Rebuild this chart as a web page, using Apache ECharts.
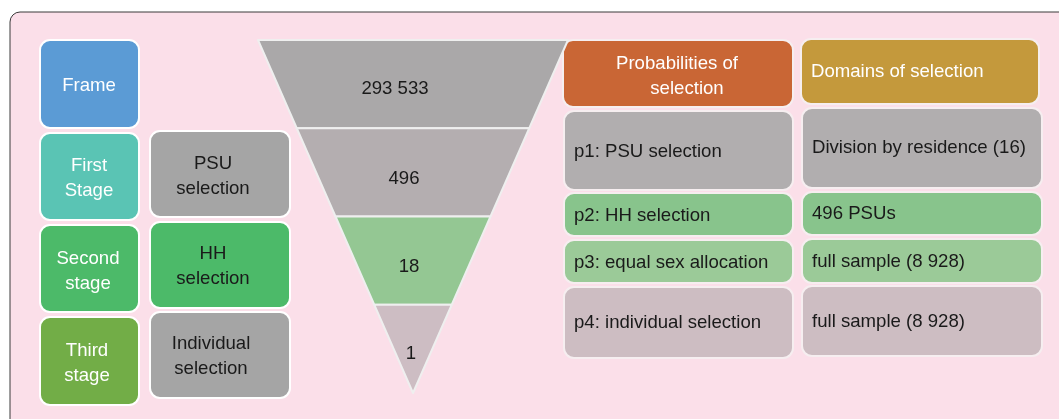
<!DOCTYPE html>
<html>
<head>
<meta charset="utf-8">
<script src="https://cdn.jsdelivr.net/npm/echarts@6/dist/echarts.min.js"></script>
<style>
html,body{margin:0;padding:0;background:#fff;}
#chart{width:1059px;height:419px;}
</style>
</head>
<body>
<div id="chart"></div>
<script>
// ---- data ----
var funnelValues = [293533, 496, 18, 1];           // sizes shown in the funnel
var funnelLevels = [4, 3, 2, 1];                    // structural width of each funnel band
var funnelColors = ['#aaa8a9', '#b4aeb0', '#94c793', '#cdbdc3'];
var stageLabels = ['Frame', 'First\nStage', 'Second\nstage', 'Third\nstage'];
var actionLabels = ['PSU\nselection', 'HH\nselection', 'Individual\nselection'];
var probHeader = ['Probabilities of', 'selection'];
var domainHeader = 'Domains of selection';
var probLabels = ['p1: PSU selection', 'p2: HH selection', 'p3: equal sex allocation', 'p4: individual selection'];
var domainLabels = ['Division by residence (16)', '496 PSUs', 'full sample (8 928)', 'full sample (8 928)'];

var FONT = '"Liberation Sans", Arial, sans-serif';
var FS = 18.6;

function fmt(v) {
  return String(v).replace(/\B(?=(\d{3})+(?!\d))/g, ' ');
}

function txt(text, tx, ty, color, align) {
  return { type: 'text', style: { text: text, x: tx, y: ty, fill: color,
    font: FS + 'px ' + FONT, textAlign: align || 'center', textVerticalAlign: 'middle', lineHeight: 25 } };
}

function box(x, y, w, h, fill, stroke, text, tx, ty, color, align) {
  var children = [
    { type: 'rect', shape: { x: x, y: y, width: w, height: h, r: 10 },
      style: { fill: fill, stroke: stroke, lineWidth: 2 } }
  ];
  if (text !== null) children.push(txt(text, tx, ty, color, align));
  return { type: 'group', children: children };
}

var graphics = [];
graphics.push({ type: 'rect', z: -10, shape: { x: 10, y: 12, width: 1070, height: 430, r: 10 },
  style: { fill: '#fbdfe9', stroke: '#3a3a3a', lineWidth: 1 } });

// left column: stages
var stageBoxes = [[40, 40, 99, 88, '#5b9bd5', 89, 86],
                  [40, 133, 99, 87, '#5ac4b4', 89, 178],
                  [40, 225, 99, 87, '#4cba69', 88, 271],
                  [40, 317, 99, 88, '#72ad47', 87, 363]];
stageBoxes.forEach(function (b, i) {
  graphics.push(box(b[0], b[1], b[2], b[3], b[4], '#ffffff', stageLabels[i], b[5], b[6], '#ffffff'));
});
// second column: selection actions
var actBoxes = [[150, 131, 140, 86, '#a5a5a5', 213, 176],
                [150, 222, 140, 86, '#4cba69', 213, 266],
                [150, 312, 140, 86, '#a5a5a5', 211, 356]];
actBoxes.forEach(function (b, i) {
  graphics.push(box(b[0], b[1], b[2], b[3], b[4], '#ffffff', actionLabels[i], b[5], b[6], '#1a1a1a'));
});
// right columns
graphics.push(box(563, 40, 230, 67, '#c96635', '#f6eef0', null));
graphics.push(txt(probHeader[0], 677, 64, '#ffffff'));
graphics.push(txt(probHeader[1], 687, 89, '#ffffff'));
graphics.push(box(801, 39, 238, 65, '#c4993c', '#f6eef0', domainHeader, 811, 72, '#ffffff', 'left'));
var rowBoxes = [[111, 79, '#b1aeaf', 152, 108, 80, 148],
                [193, 43, '#88c48c', 216, 192, 43, 214],
                [240, 43, '#9bca98', 263, 239, 44, 262],
                [287, 71, '#cdbdc2', 323, 286, 70, 322]];
rowBoxes.forEach(function (r, i) {
  graphics.push(box(564, r[0], 229, r[1], r[2], '#f6eef0', probLabels[i], 574, r[3], '#1a1a1a', 'left'));
  graphics.push(box(802, r[4], 240, r[5], r[2], '#f6eef0', domainLabels[i], 812, r[6], '#1a1a1a', 'left'));
});

// nudges of each funnel label, as placed in the reference
var labelShift = [[-18, 5], [-9, 6], [-4, 6], [-2, 5]];

var chart = echarts.init(document.getElementById('chart'), null, { renderer: 'canvas' });
chart.setOption({
  backgroundColor: '#ffffff',
  animation: false,
  graphic: graphics,
  series: [{
    type: 'funnel',
    left: 258, top: 40, width: 310, height: 353,
    min: 0, max: 4, minSize: '0%', maxSize: '100%',
    sort: 'descending', gap: 0, z: 5,
    itemStyle: { borderColor: '#efefef', borderWidth: 2 },
    label: { show: true, position: 'inside', color: '#1a1a1a', fontSize: FS, fontFamily: FONT,
      formatter: function (p) { return fmt(funnelValues[p.dataIndex]); } },
    labelLayout: function (p) {
      var s = labelShift[p.dataIndex] || [0, 0];
      return { dx: s[0], dy: s[1] };
    },
    labelLine: { show: false },
    emphasis: { disabled: true },
    data: funnelLevels.map(function (lv, i) {
      return { value: lv, name: 'b' + i, itemStyle: { color: funnelColors[i] } };
    })
  }]
});
</script>
</body>
</html>
